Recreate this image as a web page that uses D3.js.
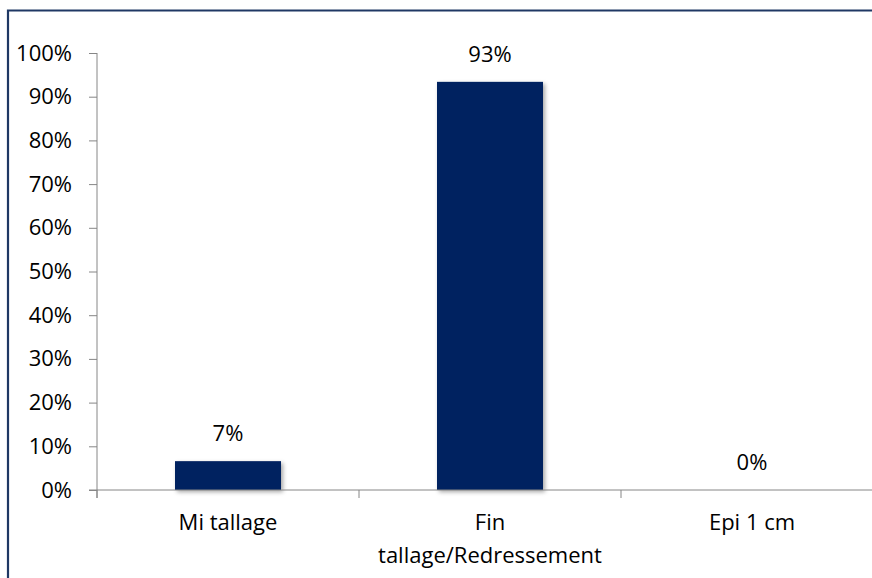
<!DOCTYPE html>
<html><head><meta charset="utf-8">
<script src="https://cdn.jsdelivr.net/npm/d3@7"></script>
<style>body{margin:0;background:#fff;} svg{display:block;}</style>
</head><body>
<svg id="c" width="872" height="578"></svg>
<script>
const categories = ["Mi tallage", "Fin\ntallage/Redressement", "Epi 1 cm"];
const values = [0.066, 0.934, 0.0];
const valueLabels = ["7%", "93%", "0%"];
const yTicks = [0, 0.1, 0.2, 0.3, 0.4, 0.5, 0.6, 0.7, 0.8, 0.9, 1.0];

const svg = d3.select("#c");
const font = "'Open Sans', 'Noto Sans', sans-serif";
const fs = 22;

svg.append("rect").attr("x",0).attr("y",0).attr("width",872).attr("height",578).attr("fill","#fff");
// outer border (top & left)
svg.append("path").attr("d","M8,600 L8,10.5 L900,10.5").attr("fill","none").attr("stroke","#1F3864").attr("stroke-width",2.2);

const defs = svg.append("defs");
const f = defs.append("filter").attr("id","sh").attr("x","-20%").attr("y","-20%").attr("width","150%").attr("height","150%");
f.append("feDropShadow").attr("dx",2).attr("dy",2).attr("stdDeviation",2).attr("flood-color","#000").attr("flood-opacity",0.35);

const xb = d3.scaleBand().domain(categories).range([97, 883]);
const y = d3.scaleLinear().domain([0, 1]).range([490, 53]);

// bars
svg.selectAll("rect.bar").data(values).join("rect").attr("class","bar")
  .attr("x",(d,i)=>xb(categories[i]) + xb.bandwidth()/2 - 53)
  .attr("width",106)
  .attr("y",d=>y(d)).attr("height",d=>y(0)-y(d))
  .attr("fill","#002060").attr("filter","url(#sh)");

// y axis
const yAxis = d3.axisLeft(y).tickValues(yTicks).tickFormat(d3.format(".0%")).tickSize(8).tickSizeOuter(0);
const gy = svg.append("g").attr("transform","translate(97,0)").call(yAxis);
gy.select(".domain").attr("stroke","#868686").attr("d","M0,53 V498");
gy.selectAll(".tick line").attr("stroke","#868686");
gy.selectAll(".tick text").attr("x",-25).attr("font-family",font).attr("font-size",fs).attr("fill","#000");

// x axis
const xAxis = d3.axisBottom(xb).tickSize(0).tickFormat("");
const gx = svg.append("g").attr("transform","translate(0,490)").call(xAxis);
gx.select(".domain").attr("stroke","#868686").attr("d","M89,0 H883");
const bounds = categories.map(c=>xb(c)).concat([xb(categories[2])+xb.bandwidth()]);
gx.selectAll("line.bt").data(bounds).join("line").attr("class","bt")
  .attr("x1",d=>d).attr("x2",d=>d).attr("y1",0).attr("y2",8).attr("stroke","#868686");

// category labels
categories.forEach((c,i)=>{
  const lines = c.split("\n");
  const t = svg.append("text").attr("text-anchor","middle").attr("font-family",font).attr("font-size",fs).attr("fill","#000");
  lines.forEach((ln,j)=>{
    t.append("tspan").attr("x",xb(c)+xb.bandwidth()/2).attr("y",530 + j*33).text(ln);
  });
});

// value labels
svg.selectAll("text.vl").data(values).join("text").attr("class","vl")
  .attr("x",(d,i)=>xb(categories[i])+xb.bandwidth()/2)
  .attr("y",d=>y(d)-20)
  .attr("text-anchor","middle").attr("font-family",font).attr("font-size",fs).attr("fill","#000")
  .text((d,i)=>valueLabels[i]);
</script>
</body></html>
